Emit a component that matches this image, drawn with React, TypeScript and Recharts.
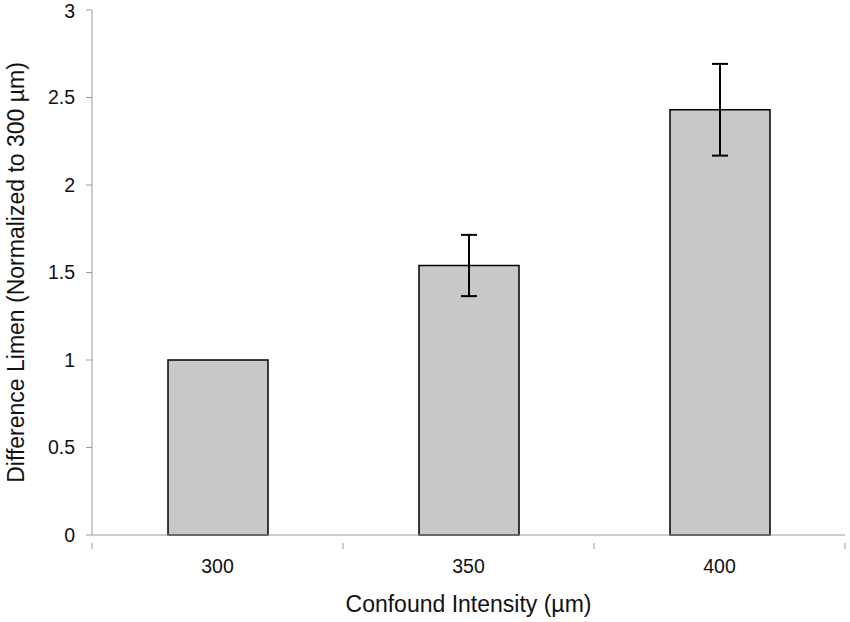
import { BarChart, Bar, XAxis, YAxis, ErrorBar } from "recharts";

const categories = ["300", "350", "400"];
const limenValues = [1.0, 1.54, 2.43];
const limenErrors = [0, 0.175, 0.262];
const yTicks = [0, 0.5, 1, 1.5, 2, 2.5, 3];

const data = categories.map((name, i) => ({
  name,
  value: limenValues[i],
  err: limenErrors[i],
}));

const W = 850;
const H = 622;
const LEFT = 92;
const RIGHT = 5;
const HALF_BAND = (W - LEFT - RIGHT) / categories.length / 2;
const AXIS = "#9a9a9a";
const FONT = "'Liberation Sans', Arial, sans-serif";

function CategoryTick(props: any) {
  const { x, y, payload, index } = props;
  const last = index === categories.length - 1;
  return (
    <g>
      <line x1={x - HALF_BAND} x2={x - HALF_BAND} y1={y} y2={y + 6} stroke={AXIS} />
      {last && <line x1={x + HALF_BAND} x2={x + HALF_BAND} y1={y} y2={y + 6} stroke={AXIS} />}
      <text x={x} y={y + 30} textAnchor="middle" fontSize={19.5} fill="#111" fontFamily={FONT}>
        {payload.value}
      </text>
    </g>
  );
}

export default function App() {
  return (
    <div style={{ position: "absolute", left: 0, top: 0, background: "#fff" }}>
      <BarChart
        width={W}
        height={H}
        data={data}
        margin={{ top: 10, right: RIGHT, left: 0, bottom: 0 }}
        barCategoryGap={0}
      >
        <XAxis
          dataKey="name"
          height={87}
          stroke={AXIS}
          tickLine={false}
          tick={<CategoryTick />}
          label={{
            value: "Confound Intensity (µm)",
            position: "insideBottom",
            offset: 10,
            fontSize: 23,
            fill: "#111",
            fontFamily: FONT,
          }}
        />
        <YAxis
          width={LEFT}
          domain={[0, 3]}
          ticks={yTicks}
          stroke={AXIS}
          tickSize={6}
          tickMargin={11}
          tick={{ fontSize: 19.5, fill: "#111", fontFamily: FONT }}
          label={{
            value: "Difference Limen (Normalized to 300 µm)",
            angle: -90,
            position: "insideLeft",
            offset: 16,
            style: { textAnchor: "middle" },
            fontSize: 23,
            fill: "#111",
            fontFamily: FONT,
          }}
        />
        <Bar
          dataKey="value"
          barSize={100}
          fill="#c8c8c8"
          stroke="#000"
          strokeWidth={1.5}
          isAnimationActive={false}
        >
          <ErrorBar dataKey="err" width={8} stroke="#000" strokeWidth={2} />
        </Bar>
      </BarChart>
    </div>
  );
}
